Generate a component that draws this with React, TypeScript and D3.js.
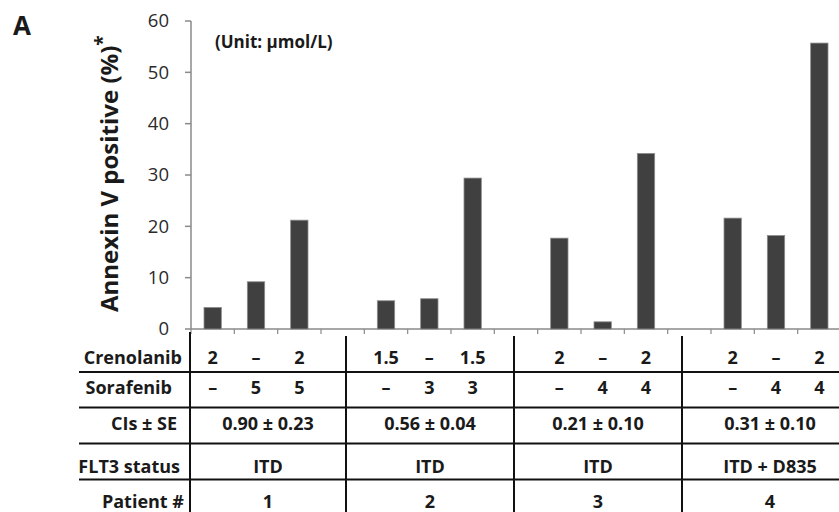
import * as d3 from "d3";

const WIDTH = 839;
const HEIGHT = 512;

// one slot per bar, with an empty slot between patients
const categories = ["1a", "1b", "1c", "g1", "2a", "2b", "2c", "g2", "3a", "3b", "3c", "g3", "4a", "4b", "4c"];
const annexin = [4.2, 9.2, 21.2, null, 5.5, 5.9, 29.4, null, 17.7, 1.4, 34.2, null, 21.6, 18.2, 55.7];
const crenolanib = ["2", "–", "2", "", "1.5", "–", "1.5", "", "2", "–", "2", "", "2", "–", "2"];
const sorafenib = ["–", "5", "5", "", "–", "3", "3", "", "–", "4", "4", "", "–", "4", "4"];
const yTicks = [0, 10, 20, 30, 40, 50, 60];

const patients = ["1", "2", "3", "4"];
const ciValues = ["0.90 ± 0.23", "0.56 ± 0.04", "0.21 ± 0.10", "0.31 ± 0.10"];
const flt3Status = ["ITD", "ITD", "ITD", "ITD + D835"];
const rowLabels = ["Crenolanib", "Sorafenib", "CIs ± SE", "FLT3 status", "Patient #"];

const FONT = "'Open Sans', sans-serif";
const TEXT = "#1a1a1a";
const CELL = 18;

export default function App() {
  const x = d3
    .scaleBand<string>()
    .domain(categories)
    .range([191, 841])
    .paddingInner(0.6)
    .paddingOuter(0.3);
  const y = d3.scaleLinear().domain([0, 60]).range([329, 21]);
  const step = x.step();
  const boundaries = categories.map((c) => (x(c) as number) - step * 0.3);
  const mid = (c: string) => (x(c) as number) + x.bandwidth() / 2;

  // table layout
  const colEdges = [190, 346, 514, 682, 858];
  const rowBase = [364, 394, 430, 473, 508];
  const hLines = [372, 407.5, 443.5, 479.5];
  const labelEnd = [182, 172, 177, 180, 184];
  const colCenter = (i: number) => (colEdges[i] + colEdges[i + 1]) / 2;

  return (
    <svg
      width={WIDTH}
      height={HEIGHT}
      style={{ position: "absolute", left: 0, top: 0, background: "#fff" }}
      fontFamily={FONT}
    >
      <text x={13} y={35} fontSize={26} fontWeight="bold" fill={TEXT}>A</text>

      {/* y axis */}
      <line x1={191} x2={191} y1={y(60)} y2={y(0)} stroke="#8a8a8a" strokeWidth={1.5} />
      {yTicks.map((t) => (
        <g key={t}>
          <line x1={185} x2={191} y1={y(t)} y2={y(t)} stroke="#8a8a8a" strokeWidth={1.5} />
          <text x={169} y={y(t)} dy="0.35em" textAnchor="end" fontSize={18.5} fill="#2a2a2a">
            {t}
          </text>
        </g>
      ))}
      <text
        transform="translate(118,312) rotate(-90)"
        textAnchor="start"
        fontSize={24}
        fontWeight="bold"
        fill={TEXT}
      >
        Annexin V positive (%)
        <tspan dy={-9} fontSize={19}>*</tspan>
      </text>

      <text x={215} y={48} fontSize={17} fontWeight="bold" fill={TEXT}>(Unit: µmol/L)</text>

      {/* x axis */}
      <line x1={191} x2={WIDTH} y1={y(0)} y2={y(0)} stroke="#8a8a8a" strokeWidth={1.5} />
      {boundaries.map((b, i) => (
        <line key={i} x1={b} x2={b} y1={y(0)} y2={y(0) + 5} stroke="#8a8a8a" strokeWidth={1.2} />
      ))}

      {/* bars */}
      {categories.map((c, i) =>
        annexin[i] == null ? null : (
          <rect
            key={c}
            x={x(c)}
            y={y(annexin[i] as number)}
            width={x.bandwidth()}
            height={y(0) - y(annexin[i] as number)}
            fill="#404040"
            stroke="#8c8c8c"
            strokeWidth={0.8}
          />
        )
      )}

      {/* table lines */}
      {hLines.map((h) => (
        <line key={h} x1={79} x2={WIDTH} y1={h} y2={h} stroke="#111" strokeWidth={2} />
      ))}
      {colEdges.slice(0, 4).map((e) => (
        <line key={e} x1={e} x2={e} y1={e === 190 ? 332 : 336} y2={HEIGHT} stroke="#111" strokeWidth={2} />
      ))}

      {/* row labels */}
      {rowLabels.map((l, i) => (
        <text key={l} x={labelEnd[i]} y={rowBase[i]} textAnchor="end" fontSize={CELL} fontWeight="bold" fill={TEXT}>
          {l}
        </text>
      ))}

      {/* doses */}
      {categories.map((c, i) => (
        <g key={c}>
          <text x={mid(c)} y={rowBase[0]} textAnchor="middle" fontSize={CELL} fontWeight="bold" fill={TEXT}>
            {crenolanib[i]}
          </text>
          <text x={mid(c)} y={rowBase[1]} textAnchor="middle" fontSize={CELL} fontWeight="bold" fill={TEXT}>
            {sorafenib[i]}
          </text>
        </g>
      ))}

      {/* per-patient rows */}
      {patients.map((p, i) => (
        <g key={p}>
          <text x={colCenter(i)} y={rowBase[2]} textAnchor="middle" fontSize={CELL} fontWeight="bold" fill={TEXT}>
            {ciValues[i]}
          </text>
          <text x={colCenter(i)} y={rowBase[3]} textAnchor="middle" fontSize={CELL} fontWeight="bold" fill={TEXT}>
            {flt3Status[i]}
          </text>
          <text x={colCenter(i)} y={rowBase[4]} textAnchor="middle" fontSize={CELL} fontWeight="bold" fill={TEXT}>
            {p}
          </text>
        </g>
      ))}
    </svg>
  );
}
